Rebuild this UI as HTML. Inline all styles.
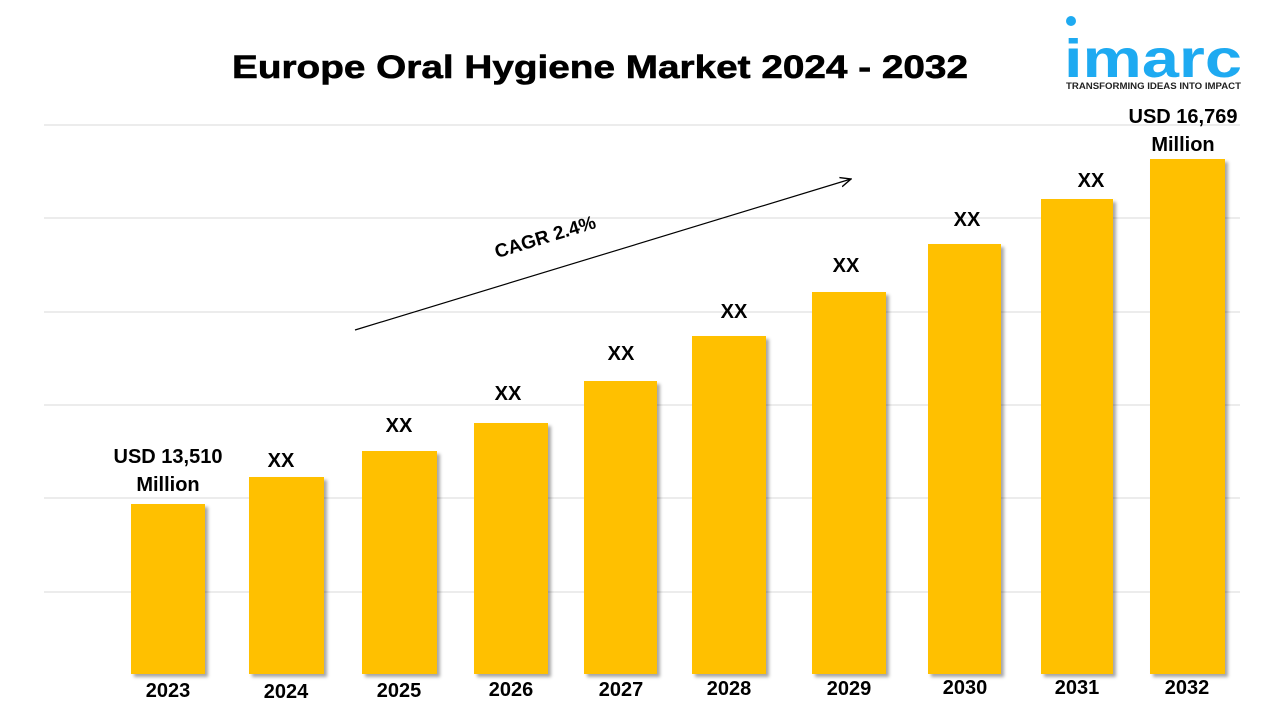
<!DOCTYPE html>
<html><head><style>
body{margin:0;width:1280px;height:720px;background:#fff;overflow:hidden;font-family:"Liberation Sans",sans-serif;}
</style></head><body>
<svg width="1280" height="720" xmlns="http://www.w3.org/2000/svg">
<defs><filter id="sh" x="-10%" y="-10%" width="130%" height="130%"><feDropShadow dx="3" dy="3" stdDeviation="1.5" flood-color="#000" flood-opacity="0.35"/></filter>
<marker id="ar" markerWidth="10" markerHeight="10" refX="9" refY="5" orient="auto"><path d="M0,1 L9,5 L0,9" fill="none" stroke="#000" stroke-width="1.2"/></marker></defs>
<text x="232" y="78" font-size="32" font-weight="bold" fill="#000" textLength="736" lengthAdjust="spacingAndGlyphs" stroke="#000" stroke-width="0.6">Europe Oral Hygiene Market 2024 - 2032</text>
<circle cx="1071" cy="21" r="5" fill="#1eaaf1"/>
<text x="1064" y="77" font-size="54" font-weight="bold" fill="#1eaaf1" textLength="178" lengthAdjust="spacingAndGlyphs">imarc</text>
<text x="1066" y="89" font-size="9" font-weight="bold" fill="#222" textLength="175" lengthAdjust="spacingAndGlyphs">TRANSFORMING IDEAS INTO IMPACT</text>
<g stroke="#d9d9d9" stroke-width="1">
<line x1="44" y1="125" x2="1240" y2="125"/><line x1="44" y1="218" x2="1240" y2="218"/><line x1="44" y1="312" x2="1240" y2="312"/><line x1="44" y1="405" x2="1240" y2="405"/><line x1="44" y1="498" x2="1240" y2="498"/><line x1="44" y1="592" x2="1240" y2="592"/>
</g>
<g fill="#ffc000" filter="url(#sh)">
<rect x="131" y="504" width="74" height="170"/>
<rect x="249" y="477" width="75" height="197"/>
<rect x="362" y="451" width="75" height="223"/>
<rect x="474" y="423" width="74" height="251"/>
<rect x="584" y="381" width="73" height="293"/>
<rect x="692" y="336" width="74" height="338"/>
<rect x="812" y="292" width="74" height="382"/>
<rect x="928" y="244" width="73" height="430"/>
<rect x="1041" y="199" width="72" height="475"/>
<rect x="1150" y="159" width="75" height="515"/>
</g>
<g font-size="20" font-weight="bold" text-anchor="middle" fill="#000">
<text x="168" y="697">2023</text><text x="286" y="698">2024</text><text x="399" y="697">2025</text><text x="511" y="696">2026</text><text x="621" y="696">2027</text><text x="729" y="695">2028</text><text x="849" y="695">2029</text><text x="965" y="694">2030</text><text x="1077" y="694">2031</text><text x="1187" y="694">2032</text>
<text x="168" y="463">USD 13,510</text><text x="168" y="491">Million</text>
<text x="1183" y="123">USD 16,769</text><text x="1183" y="151">Million</text>
<text x="281" y="467">XX</text><text x="399" y="432">XX</text><text x="508" y="400">XX</text><text x="621" y="360">XX</text><text x="734" y="318">XX</text><text x="846" y="272">XX</text><text x="967" y="226">XX</text><text x="1091" y="187">XX</text>
</g>
<line x1="355" y1="330" x2="851" y2="179" stroke="#000" stroke-width="1.2" marker-end="url(#ar)"/>
<text x="547" y="243" text-anchor="middle" font-size="19" font-weight="bold" transform="rotate(-17 547 243)">CAGR 2.4%</text>
</svg>
</body></html>
